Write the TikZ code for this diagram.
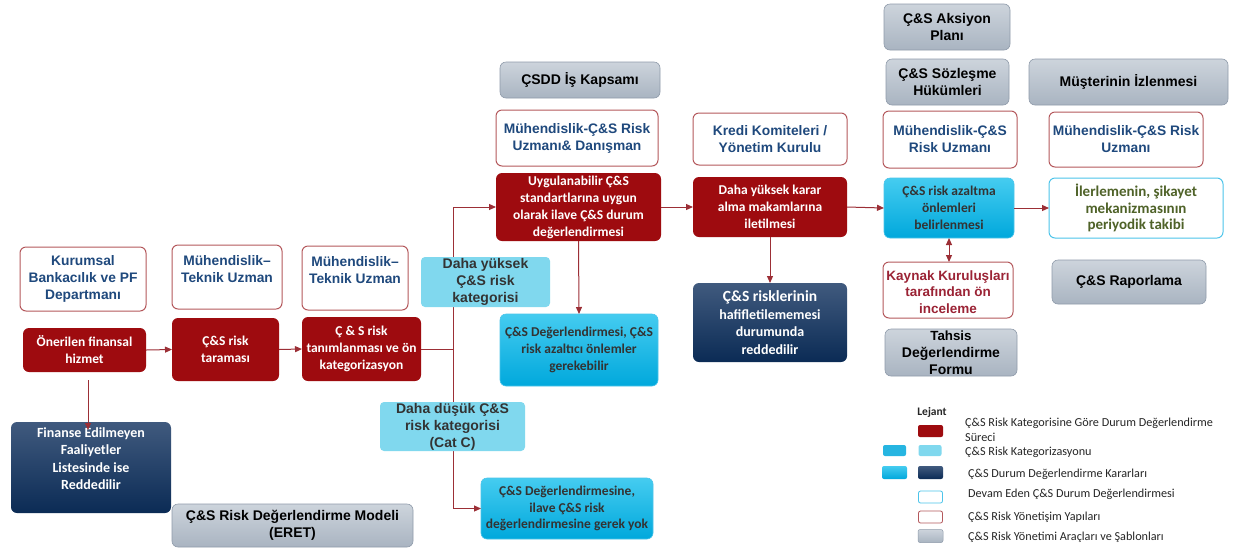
\documentclass[tikz,border=0pt]{standalone}
\usepackage{fontspec}
\setmainfont{Carlito}
\newfontfamily\arl{Liberation Sans}
\usetikzlibrary{arrows.meta}
\definecolor{dred}{HTML}{9E0B0F}
\definecolor{arrc}{HTML}{9C2F36}
\definecolor{gborder}{HTML}{B4585C}
\definecolor{blutxt}{HTML}{1F497D}
\definecolor{navyT}{HTML}{405A7E}
\definecolor{navyB}{HTML}{0B2B55}
\definecolor{cyT}{HTML}{45CCF0}
\definecolor{cyB}{HTML}{00A8DC}
\definecolor{cyline}{HTML}{4CC4EA}
\definecolor{lcy}{HTML}{80D8EE}
\definecolor{grT}{HTML}{CDD4DC}
\definecolor{grB}{HTML}{A9B4C1}
\definecolor{grline}{HTML}{8F9BAA}
\definecolor{krtxt}{HTML}{9B2335}
\definecolor{olive}{HTML}{4F6228}
\definecolor{dtxt}{HTML}{333333}
\newcommand\bx[7]{\node[#1, minimum width={(#5-#3)*1pt}, minimum height={(#6-#4)*1pt}] (#2) at ({(#3+#5)/2},{(#4+#6)/2}) {#7};}
\tikzset{
  box/.style={rounded corners=6pt, inner sep=0pt, outer sep=0pt, align=center},
  gov/.style={box, draw=gborder, line width=1pt, fill=white, text=blutxt, font={\arl\bfseries\fontsize{13.8}{17}\selectfont}},
  kay/.style={gov, text=krtxt, font={\arl\bfseries\fontsize{13.5}{16.5}\selectfont}},
  proc/.style={box, fill=dred, text=white, font={\bfseries\fontsize{13.5}{17}\selectfont}},
  dec/.style={box, top color=navyT, bottom color=navyB, text=white, font={\bfseries\fontsize{14}{17.5}\selectfont}},
  mit/.style={box, top color=cyT, bottom color=cyB, draw=cyline, line width=0.6pt, text=dtxt, font={\bfseries\fontsize{13.5}{16.8}\selectfont}},
  cat/.style={box, rounded corners=4pt, fill=lcy, text=dtxt, font={\arl\bfseries\fontsize{14}{17}\selectfont}},
  tool/.style={box, top color=grT, bottom color=grB, draw=grline, line width=0.6pt, text=black, font={\arl\bfseries\fontsize{14}{17}\selectfont}},
  mon/.style={box, draw=cyline, line width=1pt, fill=white, text=olive, font={\bfseries\fontsize{15}{16.8}\selectfont}},
  arr/.style={draw=arrc, line width=1pt, -{Triangle[length=7pt,width=6pt]}},
  arrb/.style={draw=arrc, line width=1pt, {Triangle[length=7pt,width=6pt]}-{Triangle[length=7pt,width=6pt]}},
  ln/.style={draw=arrc, line width=1pt},
  sw/.style={rounded corners=2pt, inner sep=0pt, outer sep=0pt, line width=0.8pt},
  lg/.style={anchor=west, align=left, inner sep=0pt, text=black!85, font={\fontsize{12.2}{15}\selectfont}}
}
\begin{document}
\begin{tikzpicture}[x=1pt,y=-1pt]
\useasboundingbox (0,0) rectangle (1233,550);
\fill[white] (0,0) rectangle (1233,550);
% left column
\bx{gov}{kbp}{20}{247}{146}{311}{Kurumsal\\Bankacılık ve PF\\Departmanı}
\bx{gov}{mtu1}{172}{245}{282}{309}{Mühendislik–\\Teknik Uzman\\\mbox{}}
\bx{gov}{mtu2}{302}{246}{408}{310}{Mühendislik–\\Teknik Uzman\\\mbox{}}
\bx{proc}{oner}{23}{328}{146}{372}{Önerilen finansal\\hizmet}
\bx{proc}{tara}{172}{318}{279}{381}{Ç\&S risk\\taraması}
\bx{proc}{tani}{302}{317}{421}{381}{Ç \& S risk\\tanımlanması ve ön\\kategorizasyon}
\bx{dec}{fin}{11}{422}{171}{513}{Finanse Edilmeyen\\Faaliyetler\\Listesinde ise\\Reddedilir\\\mbox{}}
\bx{tool}{eret}{172}{504}{413}{547}{Ç\&S Risk Değerlendirme Modeli\\(ERET)}
% middle
\bx{tool}{csdd}{500}{62}{660}{98}{ÇSDD İş Kapsamı}
\bx{gov}{mcr1}{496}{110}{658}{166}{Mühendislik-Ç\&S Risk\\Uzmanı\& Danışman}
\bx{proc}{uyg}{496}{173}{661}{241}{Uygulanabilir Ç\&S\\standartlarına uygun\\olarak ilave Ç\&S durum\\değerlendirmesi}
\bx{mit}{azc}{500}{314}{658}{386}{Ç\&S Değerlendirmesi, Ç\&S\\risk azaltıcı önlemler\\gerekebilir}
\bx{mit}{gyok}{481}{478}{653}{539}{Ç\&S Değerlendirmesine,\\ilave Ç\&S risk\\değerlendirmesine gerek yok}
% decision column
\bx{gov}{kredi}{693}{113}{847}{165}{Kredi Komiteleri /\\Yönetim Kurulu}
\bx{proc}{karar}{693}{177}{847}{237}{Daha yüksek karar\\alma makamlarına\\iletilmesi}
\bx{dec}{red}{693}{283}{847}{362}{\fontsize{15.5}{17}\selectfont Ç\&S risklerinin\\hafifletilememesi\\durumunda\\reddedilir}
% right
\bx{tool}{aks}{884}{4}{1010}{50}{Ç\&S Aksiyon\\Planı}
\bx{tool}{soz}{886}{59}{1009}{105}{Ç\&S Sözleşme\\Hükümleri}
\bx{tool}{muz}{1029}{59}{1228}{105}{Müşterinin İzlenmesi}
\bx{gov}{mcr2}{883}{111}{1017}{168}{Mühendislik-Ç\&S\\Risk Uzmanı}
\bx{gov}{mcr3}{1049}{112}{1203}{167}{Mühendislik-Ç\&S Risk\\Uzmanı}
\bx{mit}{azl}{884}{178}{1014}{238}{Ç\&S risk azaltma\\önlemleri\\belirlenmesi}
\bx{mon}{ile}{1049}{178}{1223}{238}{İlerlemenin, şikayet\\mekanizmasının\\periyodik takibi}
\bx{kay}{kayn}{883}{262}{1013}{318}{\rule{0pt}{14pt}Kaynak Kuruluşları\\tarafından ön\\inceleme}
\bx{tool}{tahs}{885}{329}{1017}{376}{\fontsize{13.3}{16.5}\selectfont Tahsis\\Değerlendirme\\Formu}
\bx{tool}{rap}{1052}{260}{1206}{304}{Ç\&S Raporlama}
% connectors
\draw[arr] (oner.east) -- (tara.west);
\draw[arr] (tara.east) -- (tani.west);
\draw[arr] ([xshift=3.5pt,yshift=-8pt]oner.south) -- ([xshift=3.5pt,yshift=-8pt]oner.south |- fin.north);
\coordinate (jn) at (453,349);
\draw[ln] (tani.east) -- (jn);
\draw[arr] (jn) |- (uyg.west);
\draw[arr] (jn) |- (gyok.west);
\draw[arr] (uyg.south) -- (azc.north);
\draw[arr] (uyg.east) -- (karar.west);
\draw[arr] (karar.south) -- (red.north);
\draw[arr] (karar.east) -- (azl.west);
\draw[arr] (azl.east) -- (ile.west);
\draw[arrb] (azl.south) -- (azl.south |- kayn.north);
% category boxes over the line
\bx{cat}{hi}{421}{257}{550}{307}{Daha yüksek\\Ç\&S risk\\kategorisi}
\bx{cat}{lo}{380}{402}{525}{451}{Daha düşük Ç\&S\\risk kategorisi\\(Cat C)}
% legend
\node[inner sep=0pt, font={\bfseries\fontsize{11.5}{14}\selectfont}, text=black!85] (lej) at (932,412) {Lejant};
\node[sw, fill=dred, minimum width=25pt, minimum height=12pt] (s1) at (930.5,431) {};
\node[sw, fill=cyB!85!white, minimum width=23pt, minimum height=11pt] (s2a) at (894.5,450.5) {};
\node[sw, fill=lcy, minimum width=23pt, minimum height=11pt] (s2b) at (930,450.5) {};
\node[sw, top color=cyT, bottom color=cyB, minimum width=25pt, minimum height=13pt] (s3a) at (894.5,472.5) {};
\node[sw, top color=navyT, bottom color=navyB, minimum width=25pt, minimum height=13pt] (s3b) at (930.5,472.5) {};
\node[sw, draw=cyline, fill=white, minimum width=24pt, minimum height=12pt] (s4) at (930.5,497) {};
\node[sw, draw=gborder, fill=white, minimum width=24pt, minimum height=12pt] (s5) at (930.5,517) {};
\node[sw, draw=grline, line width=0.5pt, top color=grT, bottom color=grB, minimum width=25pt, minimum height=13pt] (s6) at (930.5,536) {};
\node[lg] (l1) at (965,430) {Ç\&S Risk Kategorisine Göre Durum Değerlendirme\\Süreci};
\node[lg] (l2) at (965,452) {Ç\&S Risk Kategorizasyonu};
\node[lg] (l3) at (968,474) {Ç\&S Durum Değerlendirme Kararları};
\node[lg] (l4) at (968,494) {Devam Eden Ç\&S Durum Değerlendirmesi};
\node[lg] (l5) at (968,517) {Ç\&S Risk Yönetişim Yapıları};
\node[lg] (l6) at (968,537) {Ç\&S Risk Yönetimi Araçları ve Şablonları};
\end{tikzpicture}
\end{document}
